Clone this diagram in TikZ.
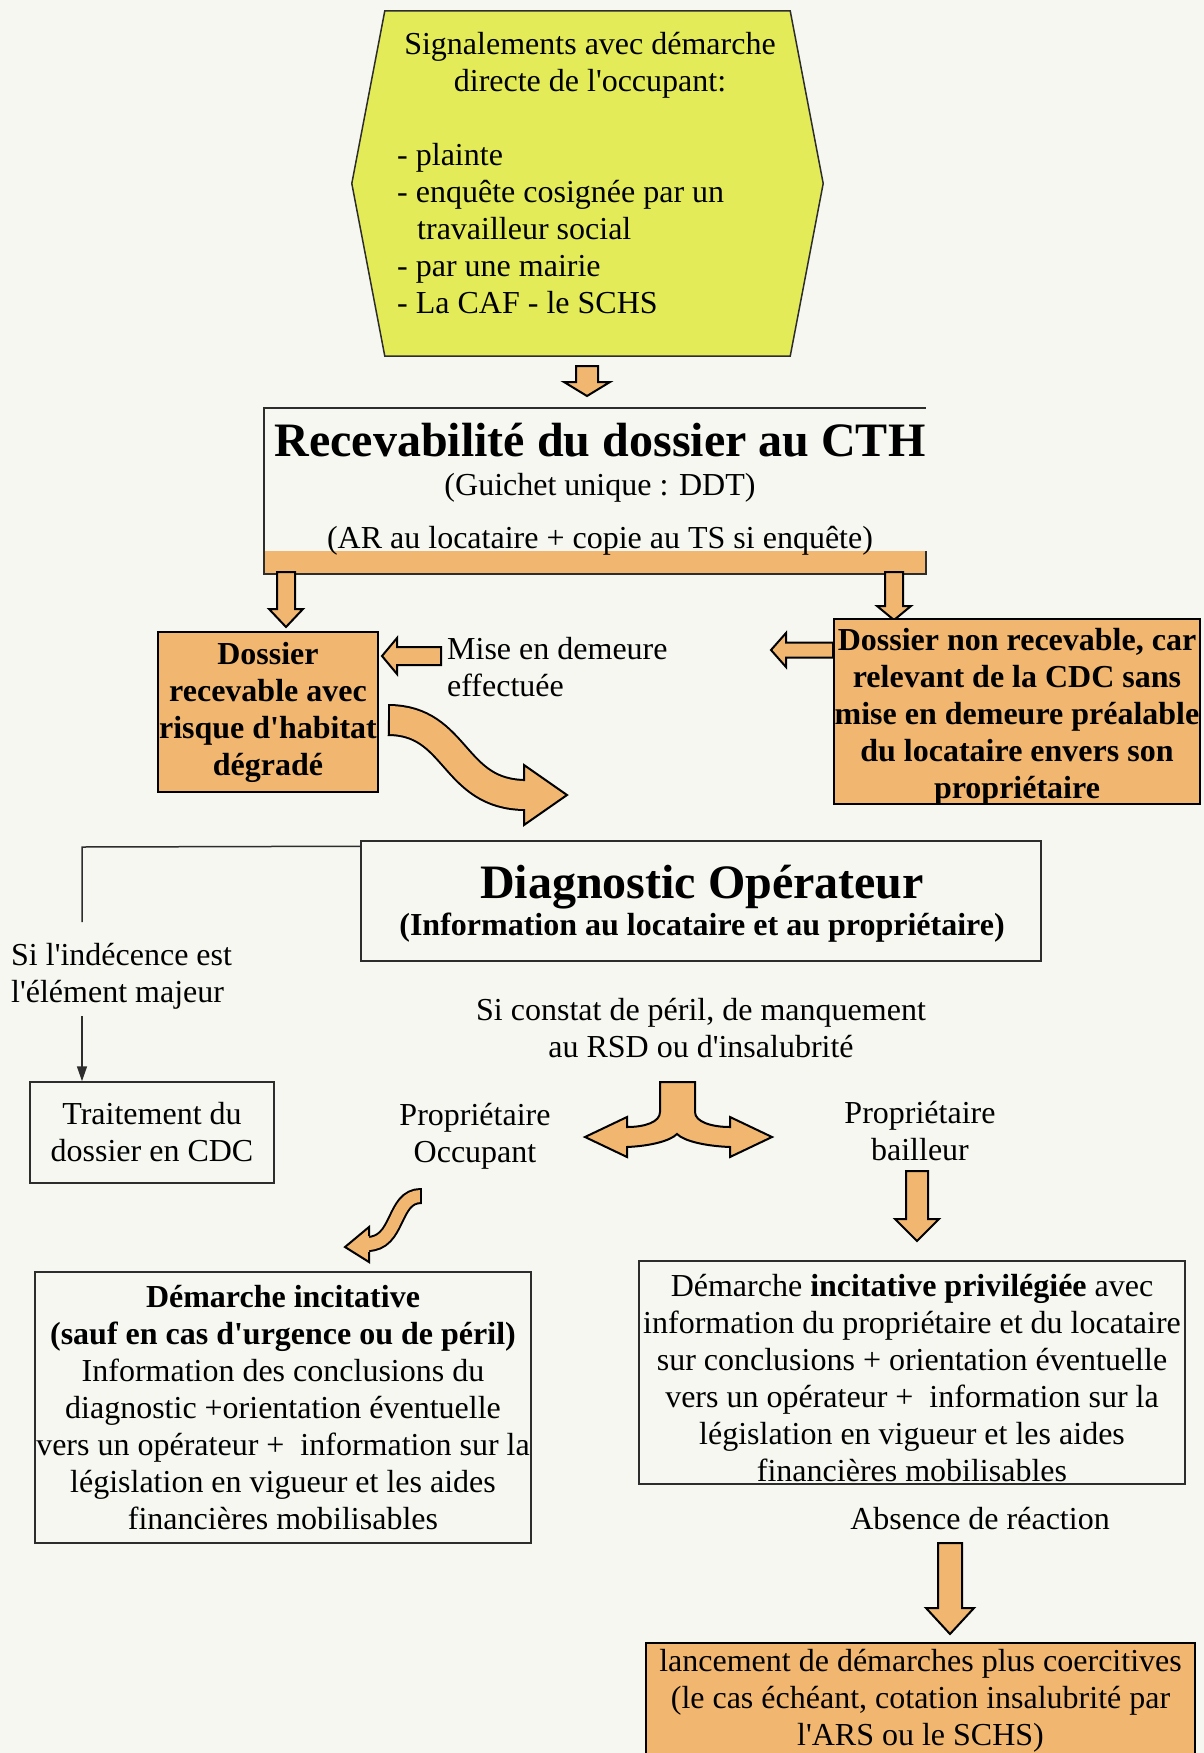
\documentclass[tikz,border=0pt]{standalone}
\usepackage{fontspec}
\setmainfont{Liberation Serif}[Ligatures=TeXOff]
\usetikzlibrary{calc,arrows.meta}

\definecolor{orangefill}{RGB}{241,183,112}
\definecolor{jaune}{RGB}{227,236,88}
\definecolor{fond}{RGB}{247,247,241}
\definecolor{trait}{RGB}{45,45,45}

% fleche pleine vers le bas : x, haut, debut pointe, pointe, demi-corps, demi-pointe
\newcommand{\flechebas}[6]{%
  \draw[bloc] ({#1-#5},#2) -- ({#1-#5},#3) -- ({#1-#6},#3) -- (#1,#4)
    -- ({#1+#6},#3) -- ({#1+#5},#3) -- ({#1+#5},#2) -- cycle;}
% fleche pleine vers la gauche : y, queue, debut pointe, pointe, demi-corps, demi-pointe
\newcommand{\flechegauche}[6]{%
  \draw[bloc] (#2,{#1-#5}) -- (#3,{#1-#5}) -- (#3,{#1-#6}) -- (#4,#1)
    -- (#3,{#1+#6}) -- (#3,{#1+#5}) -- (#2,{#1+#5}) -- cycle;}

\begin{document}
\begin{tikzpicture}[x=1pt, y=-1pt,
  txt/.style={font=\fontsize{32}{37}\selectfont, inner sep=0pt},
  gras/.style={font=\bfseries\fontsize{32}{37}\selectfont, inner sep=0pt},
  titre/.style={font=\bfseries\fontsize{48}{52}\selectfont, inner sep=0pt},
  boite/.style={draw=trait, line width=1.5pt, inner sep=0pt, align=center},
  bloc/.style={draw=black, line width=2pt, fill=orangefill, line join=miter},
  vague/.style={line width=2pt, double=orangefill}]

  \fill[fond] (0,0) rectangle (1204,1753);
  \useasboundingbox (0,0) rectangle (1204,1753);

  % Signalements
  \node[minimum width=405pt, minimum height=345pt, inner sep=0pt] (signal) at (587.5,183.5) {};
  \draw[trait, line width=1.5pt, fill=jaune] (signal.north west) -- (signal.north east)
    -- ([xshift=33pt]signal.east) -- (signal.south east) -- (signal.south west)
    -- ([xshift=-33pt]signal.west) -- cycle;
  \node[txt, align=center, anchor=north] (sighead) at (590,32) {Signalements avec démarche\\directe de l'occupant:};
  \node[txt, align=left, anchor=north west] (siglist) at (397,143) {- plainte\\- enquête cosignée par un\\\hspace*{20pt}travailleur social\\- par une mairie\\- La CAF - le SCHS};
  \flechebas{587}{366}{382}{396}{11}{23}

  % Recevabilite
  \node[minimum width=662pt, minimum height=166pt, inner sep=0pt] (cth) at (595,491) {};
  \fill[orangefill] ([yshift=23pt]cth.south west) rectangle (cth.south east);
  \draw[trait, line width=1.5pt] ([yshift=23pt]cth.south east) -- (cth.south east)
    -- (cth.south west) -- (cth.north west) -- (cth.north east);
  \node[titre, anchor=base] (cthtitre) at (600,456) {Recevabilité du dossier au CTH};
  \node[txt, anchor=base] (guichet) at (600,495) {(Guichet unique : DDT)};
  \node[txt, anchor=base] (accuse) at (600,548) {(AR au locataire + copie au TS si enquête)};
  \flechebas{286}{572}{609}{627}{9}{17}
  \flechebas{894}{572}{606}{620}{9}{17}

  % Dossiers
  \node[boite, draw=black, fill=orangefill, gras, minimum width=220pt, minimum height=160pt] (recev) at (268,712)
    {Dossier\\recevable avec\\risque d'habitat\\dégradé};
  \node[boite, draw=black, fill=orangefill, minimum width=366pt, minimum height=185pt] (nonrecev) at (1017,711.5) {};
  \node[gras, align=center] (nonrecevtxt) at (1017,717)
    {Dossier non recevable, car\\relevant de la CDC sans\\mise en demeure préalable\\du locataire envers son\\propriétaire};
  \flechegauche{656}{441}{397}{382}{9}{18}
  \node[txt, align=left, anchor=north west] (mise) at (447,637) {Mise en demeure\\effectuée};
  \flechegauche{650}{833}{786}{771}{7.5}{17}

  % fleche ondulee vers le diagnostic
  \draw[vague, double distance=28pt] (388,720) .. controls (458,720) and (452,795) .. (526,795);
  \draw[line width=2pt] (389,704) -- (389,736);
  \fill[orangefill] (524,765) -- (567,795) -- (524,825) -- cycle;
  \draw[line width=2pt] (524,781) -- (524,765) -- (567,795) -- (524,825) -- (524,809);

  % Diagnostic
  \node[boite, minimum width=680pt, minimum height=120pt] (diag) at (701,901) {};
  \node[titre, anchor=base] (diagtitre) at (702,898) {Diagnostic Opérateur};
  \node[gras, anchor=base] (diaginfo) at (702,935) {(Information au locataire et au propriétaire)};

  % Indecence
  \coordinate (coude) at (82,847);
  \node[txt, align=left, anchor=north west] (indec) at (11,943) {Si l'indécence est\\l'élément majeur};
  \node[boite, txt, minimum width=244pt, minimum height=101pt] (cdc) at (152,1132.5) {Traitement du\\dossier en CDC};
  \draw[trait, line width=1.5pt] ([yshift=-6pt]diag.north west) -- (coude) -- ([yshift=21pt]coude |- indec.north);
  \draw[trait, line width=1.5pt, -{Triangle[length=15pt,width=10pt]}] ([yshift=-7pt]coude |- indec.south) -- (coude |- cdc.north);

  % Constat
  \node[txt, align=center, anchor=north] (constat) at (701,998) {Si constat de péril, de manquement\\au RSD ou d'insalubrité};
  \draw[bloc] (660,1082) -- (660,1112) .. controls (660,1122) and (645,1127) .. (627,1127)
    -- (627,1117) -- (585,1137) -- (627,1157) -- (627,1147)
    .. controls (650,1146) and (670,1141) .. (677,1134)
    .. controls (684,1141) and (705,1146) .. (730,1147)
    -- (730,1157) -- (772,1137) -- (730,1117) -- (730,1127)
    .. controls (712,1127) and (695,1122) .. (695,1112) -- (695,1082) -- cycle;
  \node[txt, align=center, anchor=north] (occupant) at (475,1103) {Propriétaire\\Occupant};
  \node[txt, align=center, anchor=north] (bailleur) at (920,1101) {Propriétaire\\bailleur};

  % fleche courbe vers la demarche incitative
  \draw[vague, double distance=12pt] (421,1196) .. controls (392,1196) and (400,1244) .. (367,1244);
  \draw[line width=2pt] (421,1188) -- (421,1204);
  \fill[orangefill] (369,1227) -- (345,1247) -- (369,1262) -- cycle;
  \draw[line width=2pt] (369,1236) -- (369,1227) -- (345,1247) -- (369,1262) -- (369,1252);
  \flechebas{917}{1171}{1219}{1241}{11}{22}

  % Demarches
  \node[boite, txt, minimum width=496pt, minimum height=271pt] (incit) at (283,1407.5)
    {\textbf{Démarche incitative}\\\textbf{(sauf en cas d'urgence ou de péril)}\\Information des conclusions du\\diagnostic +orientation éventuelle\\vers un opérateur +\ \ information sur la\\législation en vigueur et les aides\\financières mobilisables};
  \node[boite, minimum width=546pt, minimum height=223pt] (privil) at (912,1372.5) {};
  \node[txt, align=center] (priviltxt) at (912,1378)
    {Démarche \textbf{incitative privilégiée} avec\\information du propriétaire et du locataire\\sur conclusions + orientation éventuelle\\vers un opérateur +\ \ information sur la\\législation en vigueur et les aides\\financières mobilisables};
  \node[txt, anchor=base] (absence) at (980,1529) {Absence de réaction};
  \flechebas{950}{1543}{1608}{1634}{12}{24}
  \node[boite, draw=black, fill=orangefill, minimum width=549pt, minimum height=130pt] (coerc) at (920.5,1708) {};
  \node[txt, align=center] (coerctxt) at (920.5,1701)
    {lancement de démarches plus coercitives\\(le cas échéant, cotation insalubrité par\\l'ARS ou le SCHS)};
\end{tikzpicture}
\end{document}
